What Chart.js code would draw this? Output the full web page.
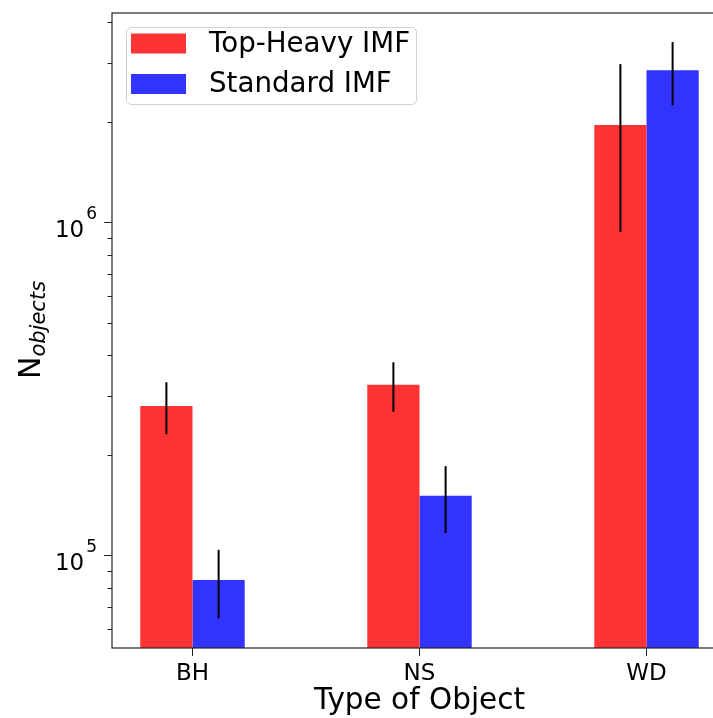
<!DOCTYPE html>
<html>
<head>
<meta charset="utf-8">
<script src="https://cdn.jsdelivr.net/npm/chart.js@4.4.1/dist/chart.umd.min.js"></script>
<style>
    html, body { margin: 0; padding: 0; background: #fff; overflow: hidden; }
    #wrap { width: 713px; height: 718px; overflow: hidden; }
</style>
</head>
<body>
<div id="wrap"><canvas id="chart" width="740" height="718"></canvas></div>
<script>
// Number of compact objects per type, for two IMFs
const categories = ['BH', 'NS', 'WD'];
const topHeavy = [281000, 325000, 1960000];
const topHeavyErr = [50000, 55000, 1025000];
const standard = [84300, 151000, 2860000];
const standardErr = [19600, 34300, 615000];
const seriesLabels = ['Top-Heavy IMF', 'Standard IMF'];
const yMin = 52700;
const yMax = 4250000;

const FONT = 'DejaVu Sans';

function points(values) {
    return values.map((v, i) => ({ x: i, y: v }));
}

// error bars drawn with the y scale
const errorBars = {
    id: 'errorBars',
    afterDatasetsDraw(chart) {
        const ctx = chart.ctx;
        const yScale = chart.scales.y;
        ctx.save();
        ctx.strokeStyle = '#000';
        ctx.lineWidth = 2;
        chart.data.datasets.forEach((ds, di) => {
            const meta = chart.getDatasetMeta(di);
            meta.data.forEach((bar, i) => {
                const v = ds.data[i].y;
                const e = ds.errors[i];
                ctx.beginPath();
                ctx.moveTo(bar.x, yScale.getPixelForValue(v - e));
                ctx.lineTo(bar.x, yScale.getPixelForValue(v + e));
                ctx.stroke();
            });
        });
        ctx.restore();
    }
};

// frame, log ticks with 10^n labels, y title, legend
const decorations = {
    id: 'decorations',
    afterDraw(chart) {
        const ctx = chart.ctx;
        const area = chart.chartArea;
        const yScale = chart.scales.y;
        ctx.save();

        ctx.strokeStyle = '#222';
        ctx.lineWidth = 1.2;
        ctx.strokeRect(area.left, area.top, area.right - area.left, area.bottom - area.top);

        ctx.fillStyle = '#000';
        ctx.strokeStyle = '#222';
        ctx.lineWidth = 1;
        yScale.ticks.forEach(t => {
            const exp = Math.floor(Math.log10(t.value) + 1e-9);
            const sig = t.value / Math.pow(10, exp);
            if (Math.abs(sig - Math.round(sig)) > 1e-6) return;
            const y = Math.round(yScale.getPixelForValue(t.value)) + 0.5;
            const major = Math.round(sig) === 1;
            const len = major ? 8 : 4.5;
            ctx.beginPath();
            ctx.moveTo(area.left - len, y);
            ctx.lineTo(area.left, y);
            ctx.stroke();
            if (major) {
                ctx.textBaseline = 'alphabetic';
                ctx.textAlign = 'left';
                ctx.font = '17px "' + FONT + '"';
                const supW = ctx.measureText(String(exp)).width;
                const supX = area.left - 15 - supW;
                ctx.fillText(String(exp), supX, y - 4);
                ctx.textAlign = 'right';
                ctx.font = '23px "' + FONT + '"';
                ctx.fillText('10', supX - 2, y + 14);
            }
        });

        // y axis title: N with italic subscript
        ctx.translate(40, 379);
        ctx.rotate(-Math.PI / 2);
        ctx.textAlign = 'left';
        ctx.textBaseline = 'alphabetic';
        ctx.font = '30px "' + FONT + '"';
        ctx.fillText('N', 0, 0);
        const nW = ctx.measureText('N').width;
        ctx.font = 'italic 21px "' + FONT + '"';
        ctx.fillText('objects', nW, 4.5);
        ctx.setTransform(1, 0, 0, 1, 0, 0);

        // legend
        ctx.font = '27.7px "' + FONT + '"';
        let textW = 0;
        chart.data.datasets.forEach(ds => {
            textW = Math.max(textW, ctx.measureText(ds.label).width);
        });
        const lx = 126, ly = 27, rowH = 40.5;
        const w = 83 + textW + 6;
        const h = 77;
        ctx.fillStyle = 'rgba(255,255,255,0.8)';
        ctx.strokeStyle = '#d0d0d0';
        ctx.lineWidth = 1;
        ctx.beginPath();
        ctx.roundRect(lx + 0.5, ly + 0.5, w, h, 5);
        ctx.fill();
        ctx.stroke();
        chart.data.datasets.forEach((ds, i) => {
            const cy = ly + 16.5 + i * rowH;
            ctx.fillStyle = ds.backgroundColor;
            ctx.fillRect(lx + 5, cy - 10, 55, 20);
            ctx.fillStyle = '#000';
            ctx.textAlign = 'left';
            ctx.textBaseline = 'middle';
            ctx.fillText(ds.label, lx + 83, cy + 1);
        });

        ctx.restore();
    }
};

function loadChart() {
    const ctx = document.getElementById('chart');
    new Chart(ctx, {
        type: 'bar',
        data: {
            datasets: [{
                label: seriesLabels[0],
                data: points(topHeavy),
                errors: topHeavyErr,
                backgroundColor: '#ff3333',
                borderWidth: 0
            }, {
                label: seriesLabels[1],
                data: points(standard),
                errors: standardErr,
                backgroundColor: '#3333ff',
                borderWidth: 0
            }]
        },
        options: {
            responsive: false,
            animation: false,
            categoryPercentage: 0.46,
            barPercentage: 1,
            layout: {
                padding: { top: 13, right: 13, left: 0, bottom: 0 }
            },
            plugins: {
                legend: { display: false },
                tooltip: { enabled: false }
            },
            scales: {
                x: {
                    type: 'linear',
                    offset: false,
                    min: -0.3546,
                    max: 2.3546,
                    afterBuildTicks: function(scale) {
                        scale.ticks = categories.map((c, i) => ({ value: i }));
                    },
                    afterFit: function(scale) {
                        scale.height = 70;
                    },
                    ticks: {
                        autoSkip: false,
                        maxRotation: 0,
                        padding: 4,
                        color: '#000',
                        font: { family: FONT, size: 23 },
                        callback: function(value) {
                            return categories[value];
                        }
                    },
                    grid: {
                        offset: false,
                        drawOnChartArea: false,
                        drawTicks: true,
                        tickLength: 8,
                        tickColor: '#222',
                        tickWidth: 1
                    },
                    border: { display: false },
                    title: {
                        display: true,
                        text: 'Type of Object',
                        color: '#000',
                        padding: { top: 0, bottom: -1 },
                        font: { family: FONT, size: 29.5 }
                    }
                },
                y: {
                    type: 'logarithmic',
                    min: yMin,
                    max: yMax,
                    afterFit: function(scale) {
                        scale.width = 112;
                    },
                    ticks: { display: false },
                    grid: { display: false },
                    border: { display: false }
                }
            }
        },
        plugins: [errorBars, decorations]
    });
}

document.addEventListener('DOMContentLoaded', loadChart);
</script>
</body>
</html>
